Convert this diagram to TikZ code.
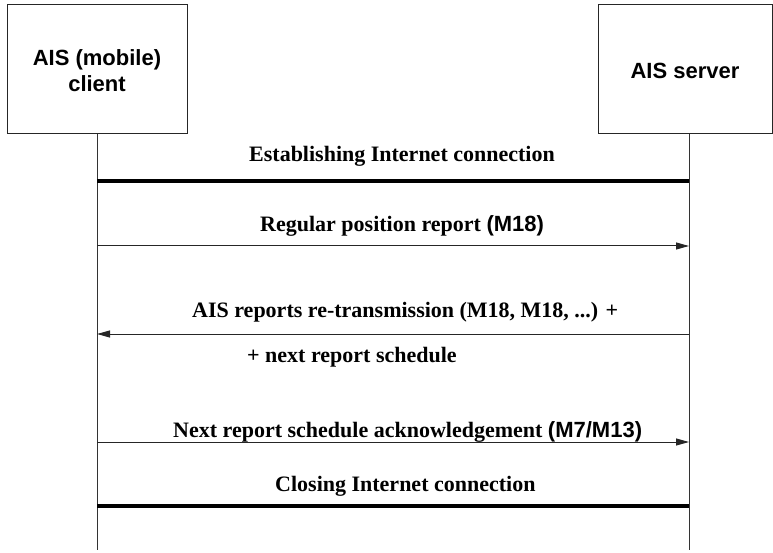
\documentclass[tikz,border=0pt]{standalone}
\usepackage{fontspec}
\setmainfont{Liberation Serif}
\newfontfamily\hv{Liberation Sans}
\usetikzlibrary{arrows.meta}
\tikzset{
  x=1pt, y=-1pt,
  actor/.style={draw=black!85, line width=1pt},
  actortext/.style={font=\hv\bfseries\fontsize{22}{26}\selectfont, align=center, inner sep=0pt},
  lifeline/.style={draw=black!80, line width=1pt},
  msg/.style={draw=black!85, line width=1pt, -{Triangle[length=13pt,width=7pt]}},
  session/.style={draw=black, line width=4pt},
  lbl/.style={font=\bfseries\fontsize{22}{26}\selectfont, inner sep=0pt, anchor=base west},
}
\newcommand{\hvb}[1]{{\hv\bfseries #1}}
\begin{document}
\begin{tikzpicture}
\useasboundingbox (0,0) rectangle (773,553);
% actor boxes
\draw[actor] (7,5) rectangle (187,134);
\draw[actor] (598,5) rectangle (772,134);
\node[actortext] (client) at (97,71) {AIS (mobile)\\client};
\node[actortext] (server) at (685,71) {AIS server};
% lifeline endpoints
\coordinate (ctop) at (97,134);
\coordinate (cbot) at (97,550);
\coordinate (stop) at (689,134);
\coordinate (sbot) at (689,550);
\draw[lifeline] (ctop) -- (cbot);
\draw[lifeline] (stop) -- (sbot);
% message anchors on the lifelines
\coordinate (c1) at (97,181);  \coordinate (s1) at (689,181);
\coordinate (c2) at (97,246);  \coordinate (s2) at (689,246);
\coordinate (c3) at (97,334);  \coordinate (s3) at (689,334);
\coordinate (c4) at (97,442);  \coordinate (s4) at (689,442);
\coordinate (c5) at (97,506);  \coordinate (s5) at (689,506);
% connectors
\draw[session] (c1) -- (s1);
\draw[msg] (c2) -- (s2);
\draw[msg] (s3) -- (c3);
\draw[msg] (c4) -- (s4);
\draw[session] (c5) -- (s5);
% labels
\node[lbl] (t1) at (249,162) {Establishing Internet connection};
\node[lbl] (t2) at (260,232) {Regular position report \hvb{(M18)}};
\node[lbl] (t3) at (192,317) {AIS reports re-transmission (M18, M18, ...) +};
\node[lbl] (t3b) at (247,362) {+ next report schedule};
\node[lbl] (t4) at (173,437) {Next report schedule acknowledgement \hvb{(M7/M13)}};
\node[lbl] (t5) at (275,491) {Closing Internet connection};
\end{tikzpicture}
\end{document}
